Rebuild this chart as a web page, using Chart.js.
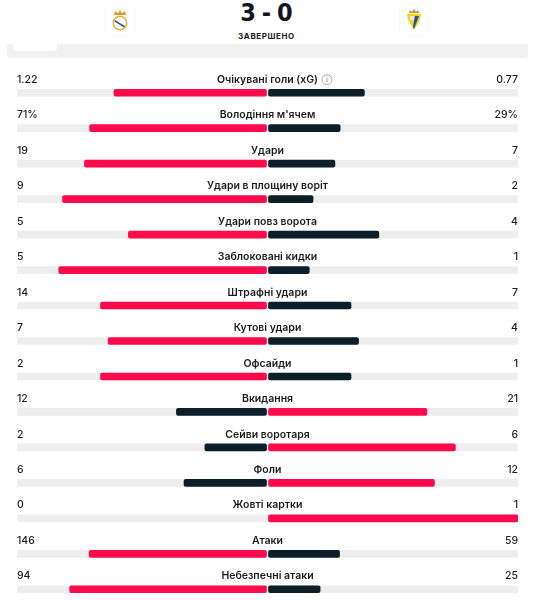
<!DOCTYPE html>
<html lang="uk">
<head>
<meta charset="utf-8">
<script src="https://cdn.jsdelivr.net/npm/chart.js@4.4.1/dist/chart.umd.min.js"></script>
<style>
  html, body { margin: 0; padding: 0; background: #fff; }
  body { width: 533px; height: 600px; overflow: hidden; position: relative; font-family: Inter, "Noto Sans", sans-serif; }
  .logo { position: absolute; top: 4px; width: 28px; height: 32px; background: #fff; border-radius: 4px; box-shadow: 0 0 2px rgba(0,0,0,0.08); }
  .logo svg { display: block; margin: 4px auto 0; }
  #score { position: absolute; left: 0; width: 533px; top: -2px; text-align: center; font: 700 25px "DejaVu Sans Condensed", "DejaVu Sans", sans-serif; color: #10171f; word-spacing: -2px; }
  #status { position: absolute; left: 0; width: 533px; top: 31px; text-align: center; font: 700 8px Inter, sans-serif; color: #222; letter-spacing: 0.6px; }
  #band { position: absolute; left: 7px; top: 44px; width: 521px; height: 14px; background: #f1f1f1; border-radius: 0 0 3px 3px; }
  #tab { position: absolute; left: 13px; top: 44px; width: 44px; height: 7px; background: #fff; border-radius: 0 0 4px 4px; }
  #wrap { position: absolute; left: 0; top: 60px; width: 533px; height: 560px; }
</style>
</head>
<body>
<div class="logo" style="left:106px">
  <svg width="20" height="24" viewBox="0 0 20 24">
    <path d="M4 7 L5 3 L8 5 L10 2 L12 5 L15 3 L16 7 Z" fill="#d7a32b"/>
    <circle cx="10" cy="15" r="7.5" fill="#e2b13c"/>
    <circle cx="10" cy="15" r="6" fill="#fff"/>
    <path d="M5 12 L15 18 L14 19.5 L4.5 13.5 Z" fill="#3d4f8c"/>
  </svg>
</div>
<div class="logo" style="left:400px">
  <svg width="20" height="24" viewBox="0 0 20 24">
    <path d="M5 5 L6 2 L8 4 L10 1 L12 4 L14 2 L15 5 Z" fill="#b89a2a"/>
    <path d="M3 6 L17 6 L16 12 L10 22 L4 12 Z" fill="#f5d21c"/>
    <path d="M11 8 L15 8 L10 21 L9 19 Z" fill="#1f4ea3"/>
    <rect x="6" y="8" width="4" height="4" fill="#e9e9e9"/>
  </svg>
</div>
<div id="score">3 - 0</div>
<div id="status">ЗАВЕРШЕНО</div>
<div id="band"></div>
<div id="tab"></div>
<div id="wrap"><canvas id="statsChart"></canvas></div>
<script>
// назви показників
const categories = ['Очікувані голи (xG)', 'Володіння м\'ячем', 'Удари', 'Удари в площину воріт',
    'Удари повз ворота', 'Заблоковані кидки', 'Штрафні удари', 'Кутові удари', 'Офсайди',
    'Вкидання', 'Сейви воротаря', 'Фоли', 'Жовті картки', 'Атаки', 'Небезпечні атаки'];
const homeValues = [1.22, 71, 19, 9, 5, 5, 14, 7, 2, 12, 2, 6, 0, 146, 94];
const awayValues = [0.77, 29, 7, 2, 4, 1, 7, 4, 1, 21, 6, 12, 1, 59, 25];
const valueUnits = ['', '%', '', '', '', '', '', '', '', '', '', '', '', '', ''];

const RED = '#ff0a4a';
const DARK = '#0d1e2b';
const TRACK = '#eeeeee';
const GAP = 0.004;

const homeShare = homeValues.map((v, i) => v / (v + awayValues[i]));
const awayShare = awayValues.map((v, i) => v / (v + homeValues[i]));

const textPlugin = {
    id: 'rowText',
    afterDatasetsDraw(chart) {
        const ctx = chart.ctx;
        const area = chart.chartArea;
        const y = chart.scales.y;
        ctx.save();
        ctx.fillStyle = '#1d1d1d';
        ctx.textBaseline = 'middle';
        categories.forEach((name, i) => {
            const ty = y.getPixelForValue(i) - 13;
            ctx.font = '600 10.5px Inter, sans-serif';
            ctx.textAlign = 'center';
            ctx.fillText(name, (area.left + area.right) / 2, ty);
            ctx.font = '500 10.5px Inter, sans-serif';
            ctx.textAlign = 'left';
            ctx.fillText(homeValues[i] + valueUnits[i], area.left, ty);
            ctx.textAlign = 'right';
            ctx.fillText(awayValues[i] + valueUnits[i], area.right, ty);
            if (i === 0) {
                // значок "i" після назви
                ctx.font = '600 10.5px Inter, sans-serif';
                const lw = ctx.measureText(name).width;
                const cx = (area.left + area.right) / 2 + lw / 2 + 9;
                ctx.strokeStyle = '#9a9a9a';
                ctx.lineWidth = 0.8;
                ctx.beginPath();
                ctx.arc(cx, ty, 5, 0, Math.PI * 2);
                ctx.stroke();
                ctx.fillStyle = '#9a9a9a';
                ctx.font = '600 7px Inter, sans-serif';
                ctx.textAlign = 'center';
                ctx.fillText('i', cx, ty + 0.5);
                ctx.fillStyle = '#1d1d1d';
            }
        });
        ctx.restore();
    }
};

new Chart(document.getElementById('statsChart'), {
    type: 'bar',
    data: {
        labels: categories,
        datasets: [
            {
                label: 'home',
                data: homeShare.map(s => s > 0 ? [-s, -GAP] : null),
                backgroundColor: homeValues.map((v, i) => v > awayValues[i] ? RED : DARK),
                borderRadius: 2,
                borderSkipped: false,
                barThickness: 7,
                grouped: false,
                order: 1
            },
            {
                label: 'away',
                data: awayShare.map(s => s > 0 ? [GAP, s] : null),
                backgroundColor: awayValues.map((v, i) => v > homeValues[i] ? RED : DARK),
                borderRadius: 2,
                borderSkipped: false,
                barThickness: 7,
                grouped: false,
                order: 1
            },
            {
                label: 'track',
                data: categories.map(() => [-1, 1]),
                backgroundColor: TRACK,
                borderRadius: 1,
                borderSkipped: false,
                barThickness: 7,
                grouped: false,
                order: 2
            }
        ]
    },
    options: {
        indexAxis: 'y',
        responsive: true,
        maintainAspectRatio: false,
        animation: false,
        layout: { padding: { left: 17, right: 15, top: 15, bottom: 13 } },
        scales: {
            x: { display: false, min: -1, max: 1 },
            y: { display: false }
        },
        plugins: {
            legend: { display: false },
            tooltip: { enabled: false }
        }
    },
    plugins: [textPlugin]
});
</script>
</body>
</html>
